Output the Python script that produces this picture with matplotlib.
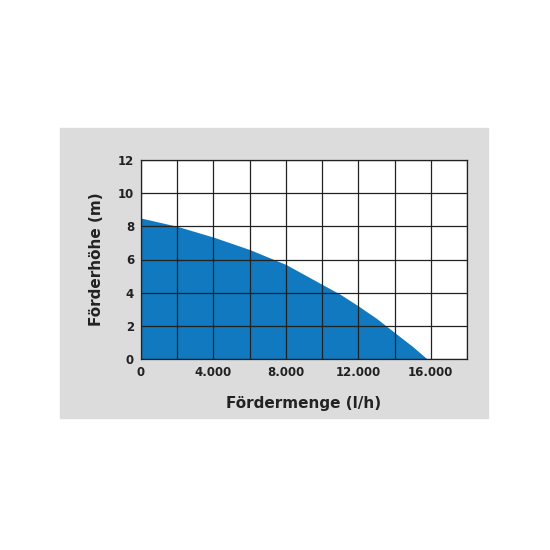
import matplotlib
matplotlib.use("Agg")
import matplotlib.pyplot as plt
from matplotlib.patches import Rectangle

flow = [0, 2000, 4000, 6000, 8000, 10000, 11000, 12000, 13000, 14000, 15000, 15800]
head = [8.5, 8.0, 7.35, 6.6, 5.7, 4.5, 3.9, 3.2, 2.45, 1.6, 0.75, 0.0]
xticks = [0, 4000, 8000, 12000, 16000]
xticklabels = ["0", "4.000", "8.000", "12.000", "16.000"]
yticks = [0, 2, 4, 6, 8, 10, 12]

fig = plt.figure(figsize=(5.5, 5.5), dpi=100)
fig.patches.append(Rectangle((60/550, 1-418/550), 428/550, 290/550,
                             transform=fig.transFigure, color="#dcdcdc", zorder=-10))
ax = fig.add_axes([141/550, 1-359/550, 326/550, 199/550])
ax.set_zorder(5)
ax.set_facecolor("white")
ax.fill_between(flow, head, 0, color="#1079bf", lw=0, zorder=1)
ax.set_xlim(0, 18000)
ax.set_ylim(0, 12)
ax.set_xticks(range(0, 18001, 2000), minor=True)
ax.set_xticks(xticks)
ax.set_xticklabels(xticklabels, fontsize=8.5, fontweight="bold", color="#222222")
ax.set_yticks(yticks)
ax.set_yticklabels([str(v) for v in yticks], fontsize=8.5, fontweight="bold", color="#222222")
ax.grid(True, which="both", color="#222222", lw=0.9, zorder=2)
ax.set_axisbelow(False)
ax.tick_params(which="both", length=0, pad=5)
for s in ax.spines.values():
    s.set_color("#222222"); s.set_linewidth(0.9); s.set_zorder(3)
ax.set_xlabel("Fördermenge (l/h)", fontsize=11, fontweight="bold", color="#222222", labelpad=12)
ax.set_ylabel("Förderhöhe (m)", fontsize=11, fontweight="bold", color="#222222", labelpad=10)
fig.savefig("out.png", dpi=100)
